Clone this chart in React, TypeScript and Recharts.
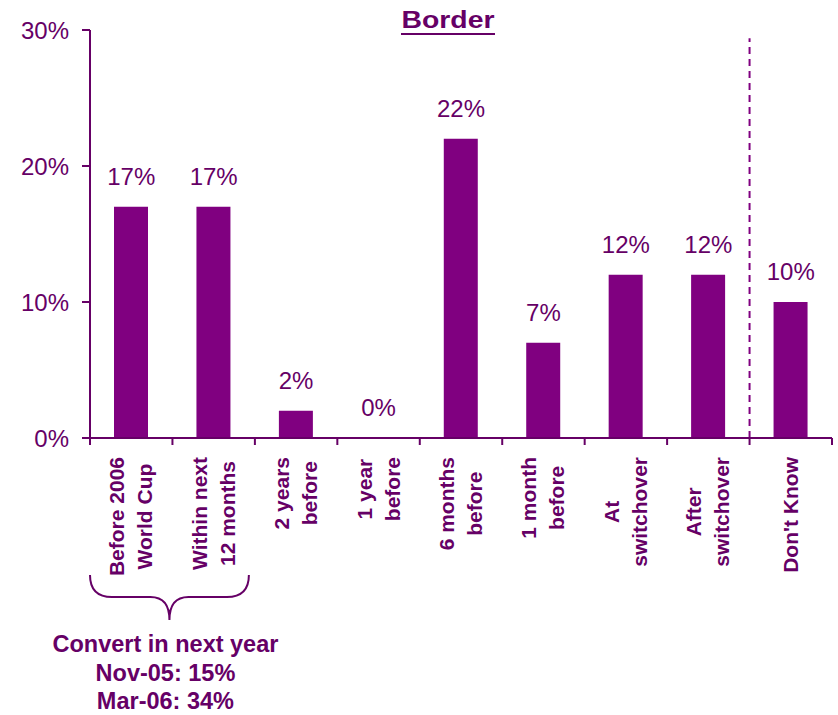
import React from "react";
import { Bar, ComposedChart, LabelList, Line, ReferenceLine, XAxis, YAxis } from "recharts";

const CATEGORIES = [
  ["Before 2006", "World Cup"],
  ["Within next", "12 months"],
  ["2 years", "before"],
  ["1 year", "before"],
  ["6 months", "before"],
  ["1 month", "before"],
  ["At", "switchover"],
  ["After", "switchover"],
  ["Don't Know"],
];
const VALUES = [17, 17, 2, 0, 22, 7, 12, 12, 10];
const Y_TICKS = [0, 10, 20, 30];
const NOTE_LINES = ["Convert in next year", "Nov-05: 15%", "Mar-06: 34%"];

const BAR = "#800080";
const TEXT = "#660066";
const FONT = "'Liberation Sans', Arial, sans-serif";

const W = 838;
const H = 715;
const TOP = 30;
const RIGHT = 6;
const Y_W = 90;
const AXIS_Y = 438;
const CW = (W - RIGHT - Y_W) / CATEGORIES.length;

const data = CATEGORIES.map((lines, i) => ({ name: lines.join(" "), lines, value: VALUES[i] }));

let ctx: CanvasRenderingContext2D | null = null;
function textWidth(s: string, font: string) {
  if (!ctx) ctx = document.createElement("canvas").getContext("2d");
  if (!ctx) return s.length * 11;
  ctx.font = font;
  return ctx.measureText(s).width;
}

function CategoryTick(props: any) {
  const { x, payload } = props;
  const lines: string[] = data[payload.index].lines;
  const font = `bold 21px ${FONT}`;
  const maxW = Math.max(...lines.map((l) => textWidth(l, font)));
  const midY = 457 + maxW / 2;
  const last = payload.index === data.length - 1;
  return (
    <g>
      <line x1={x - CW / 2} x2={x - CW / 2} y1={AXIS_Y} y2={AXIS_Y + 7} stroke={TEXT} strokeWidth={2} />
      {last && <line x1={x + CW / 2} x2={x + CW / 2} y1={AXIS_Y} y2={AXIS_Y + 7} stroke={TEXT} strokeWidth={2} />}
      {lines.map((l, i) => {
        const bx = x + (i - (lines.length - 1) / 2) * 28 + 7;
        return (
          <text
            key={i}
            x={bx}
            y={midY}
            transform={`rotate(-90 ${bx} ${midY})`}
            textAnchor="middle"
            fontFamily={FONT}
            fontWeight="bold"
            fontSize={21}
            fill={TEXT}
          >
            {l}
          </text>
        );
      })}
    </g>
  );
}

function ValueLabel(props: any) {
  const { x, y, value } = props;
  return (
    <text x={x} y={y - 22} textAnchor="middle" fontFamily={FONT} fontSize={24} fill={TEXT}>
      {value}%
    </text>
  );
}

export default function App() {
  const bl = Y_W;
  const br = Y_W + 2 * CW - 6;
  const bm = (bl + br) / 2;
  const brace = `M ${bl} 575 Q ${bl} 597 ${bl + 22} 597 L ${bm - 19} 597 Q ${bm} 597 ${bm} 620 Q ${bm} 597 ${bm + 19} 597 L ${br - 22} 597 Q ${br} 597 ${br} 575`;
  return (
    <div style={{ position: "absolute", left: 0, top: 0, width: W, height: H, background: "#fff" }}>
      <ComposedChart width={W} height={H} data={data} margin={{ top: TOP, right: RIGHT, left: 0, bottom: 0 }} barSize={34}>
        <YAxis
          width={Y_W}
          domain={[0, 30]}
          ticks={Y_TICKS}
          tickFormatter={(v) => `${v}%`}
          tick={{ fill: TEXT, fontSize: 24, fontFamily: FONT }}
          tickSize={8}
          tickMargin={13}
          axisLine={{ stroke: TEXT, strokeWidth: 2 }}
          tickLine={{ stroke: TEXT, strokeWidth: 2 }}
        />
        <XAxis
          dataKey="name"
          height={H - AXIS_Y}
          interval={0}
          tickLine={false}
          axisLine={{ stroke: TEXT, strokeWidth: 2 }}
          tick={<CategoryTick />}
        />
        <ReferenceLine
          position="start"
          segment={[
            { x: "Don't Know", y: 0 },
            { x: "Don't Know", y: 29.4 },
          ]}
          stroke={BAR}
          strokeWidth={2}
          strokeDasharray="7 5"
        />
        <Bar dataKey="value" fill={BAR} isAnimationActive={false} />
        <Line dataKey="value" stroke="none" dot={false} activeDot={false} isAnimationActive={false}>
          <LabelList dataKey="value" content={<ValueLabel />} />
        </Line>
      </ComposedChart>
      <svg width={W} height={H} style={{ position: "absolute", left: 0, top: 0, pointerEvents: "none" }}>
        <text x={448} y={28} textAnchor="middle" fontFamily={FONT} fontWeight="bold" fontSize={24} fill={TEXT} textLength={93} lengthAdjust="spacingAndGlyphs">
          Border
        </text>
        <line x1={401} x2={495} y1={34} y2={34} stroke={TEXT} strokeWidth={2} />
        <path d={brace} fill="none" stroke={TEXT} strokeWidth={2} />
        {NOTE_LINES.map((l, i) => (
          <text key={i} x={bm - 4} y={652 + i * 28.5} textAnchor="middle" fontFamily={FONT} fontWeight="bold" fontSize={23.5} fill={TEXT}>
            {l}
          </text>
        ))}
      </svg>
    </div>
  );
}
